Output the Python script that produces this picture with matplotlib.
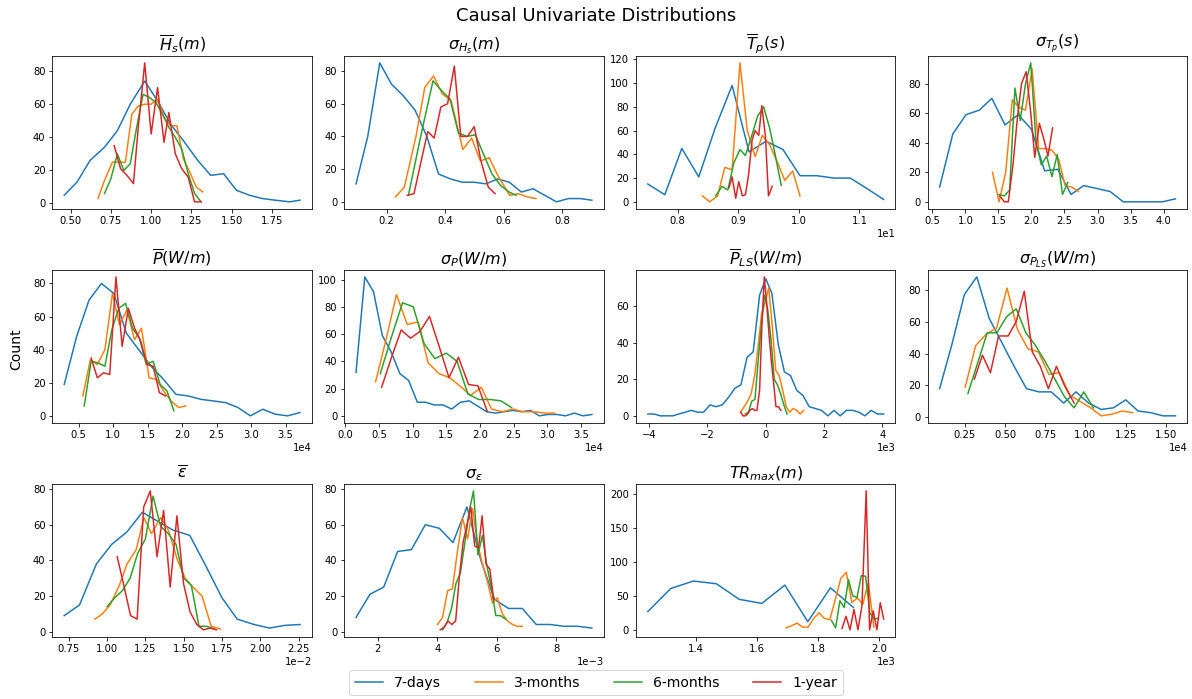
import numpy as np
import matplotlib
matplotlib.use("Agg")
import matplotlib.pyplot as plt

# windows compared in every panel
windows = ['7-days', '3-months', '6-months', '1-year']

# --- mean significant wave height (m)
hs_mean_x = [
    [0.46, 0.54, 0.62, 0.71, 0.79, 0.87, 0.96, 1.04, 1.12, 1.20, 1.29, 1.37, 1.45, 1.53, 1.61, 1.69, 1.77, 1.86, 1.925],
    [0.67, 0.71, 0.76, 0.80, 0.84, 0.88, 0.92, 0.96, 1.00, 1.04, 1.08, 1.12, 1.16, 1.20, 1.24, 1.28, 1.32],
    [0.71, 0.75, 0.79, 0.83, 0.87, 0.91, 0.95, 0.99, 1.03, 1.07, 1.11, 1.15, 1.19, 1.23, 1.27, 1.31],
    [0.77, 0.81, 0.85, 0.89, 0.92, 0.96, 1.00, 1.04, 1.08, 1.11, 1.15, 1.19, 1.23, 1.27, 1.31],
]
hs_mean_y = [
    [5, 13, 26, 34, 44, 60, 74, 62, 48, 38, 26, 17, 18, 8, 5, 3, 2, 1, 2],
    [3, 14, 25, 25, 25, 54, 59, 60, 60, 63, 52, 47, 47, 27, 19, 10, 7],
    [6, 15, 30, 20, 24, 46, 66, 64, 61, 54, 46, 40, 33, 18, 6, 1],
    [35, 21, 17, 12, 46, 85, 42, 70, 37, 55, 30, 21, 16, 1, 1],
]

# --- std of significant wave height (m)
hs_std_x = [
    [0.095, 0.135, 0.176, 0.216, 0.256, 0.297, 0.337, 0.377, 0.418, 0.458, 0.498, 0.539, 0.579, 0.619, 0.660, 0.700, 0.740, 0.780, 0.821, 0.861, 0.901],
    [0.23, 0.26, 0.30, 0.33, 0.36, 0.39, 0.42, 0.46, 0.49, 0.52, 0.55, 0.58, 0.62, 0.65, 0.68, 0.71],
    [0.274, 0.316, 0.358, 0.387, 0.416, 0.445, 0.474, 0.503, 0.531, 0.560, 0.589, 0.618, 0.642],
    [0.270, 0.293, 0.340, 0.362, 0.385, 0.408, 0.431, 0.453, 0.476, 0.499, 0.522, 0.547, 0.570],
]
hs_std_y = [
    [11, 40, 85, 72, 65, 56, 40, 17, 14, 12, 12, 11, 14, 12, 6, 8, 4, 0, 2, 2, 1],
    [3, 9, 40, 70, 77, 66, 62, 32, 39, 25, 27, 16, 4, 5, 3, 2],
    [4, 40, 74, 68, 63, 42, 40, 41, 29, 17, 10, 6, 4],
    [4, 5, 43, 39, 58, 60, 83, 40, 40, 46, 25, 9, 5],
]

# --- mean peak period (s)
tp_mean_x = [
    [7.51, 7.79, 8.07, 8.35, 8.62, 8.90, 9.18, 9.46, 9.74, 10.02, 10.30, 10.58, 10.85, 11.13, 11.40],
    [8.41, 8.53, 8.66, 8.78, 8.90, 9.03, 9.15, 9.28, 9.40, 9.52, 9.65, 9.77, 9.90, 10.02],
    [8.63, 8.73, 8.83, 8.93, 9.03, 9.12, 9.22, 9.32, 9.42, 9.52, 9.61, 9.71],
    [8.85, 8.90, 8.96, 9.01, 9.07, 9.12, 9.17, 9.23, 9.28, 9.34, 9.39, 9.45, 9.50, 9.56],
]
tp_mean_y = [
    [15, 6, 45, 21, 62, 98, 42, 51, 44, 22, 22, 20, 20, 11, 2],
    [5, 0, 5, 29, 27, 117, 60, 38, 56, 48, 33, 18, 26, 5],
    [5, 13, 10, 33, 44, 39, 55, 72, 80, 62, 40, 14],
    [12, 21, 3, 17, 5, 6, 22, 52, 60, 56, 81, 55, 5, 13],
]

# --- std of peak period (s)
tp_std_x = [
    [0.61, 0.81, 1.01, 1.21, 1.40, 1.60, 1.80, 2.00, 2.20, 2.40, 2.60, 2.79, 2.99, 3.19, 3.39, 3.59, 3.79, 3.98, 4.18],
    [1.41, 1.51, 1.61, 1.71, 1.81, 1.91, 2.01, 2.11, 2.21, 2.31, 2.41, 2.51, 2.61, 2.71],
    [1.51, 1.59, 1.67, 1.75, 1.83, 1.91, 1.99, 2.07, 2.15, 2.23, 2.31, 2.39, 2.47, 2.55],
    [1.52, 1.59, 1.65, 1.72, 1.79, 1.85, 1.92, 1.99, 2.05, 2.12, 2.19, 2.25, 2.32],
]
tp_std_y = [
    [10, 46, 59, 62, 70, 52, 59, 49, 21, 22, 5, 11, 9, 7, 0, 0, 0, 0, 2],
    [20, 0, 20, 69, 64, 62, 90, 36, 36, 35, 29, 11, 10, 7],
    [5, 4, 8, 77, 55, 80, 94, 40, 25, 31, 17, 32, 5, 13],
    [4, 0, 0, 25, 58, 80, 88, 60, 30, 53, 42, 31, 50],
]

# --- mean wave power (1e4 W/m)
p_mean_x = [
    [0.29, 0.47, 0.65, 0.83, 1.01, 1.19, 1.37, 1.55, 1.73, 1.91, 2.09, 2.27, 2.45, 2.63, 2.81, 2.99, 3.17, 3.35, 3.53, 3.71],
    [0.56, 0.67, 0.77, 0.88, 0.99, 1.09, 1.20, 1.31, 1.41, 1.52, 1.63, 1.73, 1.84, 1.95, 2.05],
    [0.58, 0.68, 0.78, 0.88, 0.98, 1.08, 1.18, 1.28, 1.38, 1.48, 1.58, 1.68, 1.78, 1.88],
    [0.68, 0.77, 0.86, 0.95, 1.04, 1.13, 1.22, 1.31, 1.40, 1.49, 1.58, 1.67, 1.76],
]
p_mean_y = [
    [19, 48, 70, 80, 74, 50, 40, 30, 22, 13, 12, 10, 9, 8, 5, 0, 4, 1, 0, 2],
    [12, 34, 31, 40, 74, 55, 64, 46, 53, 23, 22, 15, 9, 5, 6],
    [6, 33, 32, 30, 52, 65, 68, 53, 47, 31, 33, 19, 15, 3],
    [35, 23, 26, 25, 84, 42, 65, 53, 45, 31, 30, 14, 12],
]

# --- std of wave power (1e4 W/m)
p_std_x = [
    [0.16, 0.29, 0.42, 0.55, 0.68, 0.81, 0.94, 1.07, 1.19, 1.32, 1.45, 1.58, 1.71, 1.84, 1.97, 2.10, 2.23, 2.36, 2.49, 2.62, 2.75, 2.88, 3.01, 3.14, 3.27, 3.40, 3.53, 3.66],
    [0.45, 0.61, 0.76, 0.92, 1.08, 1.23, 1.39, 1.55, 1.70, 1.86, 2.02, 2.17, 2.33, 2.49, 2.64, 2.80, 2.96, 3.11],
    [0.52, 0.68, 0.85, 1.01, 1.17, 1.33, 1.50, 1.66, 1.82, 1.98, 2.15, 2.31, 2.47],
    [0.54, 0.68, 0.83, 0.97, 1.11, 1.25, 1.40, 1.54, 1.68, 1.83, 1.97, 2.11],
]
p_std_y = [
    [32, 102, 91, 59, 47, 31, 26, 10, 10, 8, 8, 5, 10, 11, 7, 3, 2, 3, 4, 3, 4, 0, 1, 1, 0, 2, 0, 1],
    [25, 57, 89, 67, 69, 39, 31, 28, 22, 15, 21, 5, 3, 5, 3, 3, 2, 2],
    [31, 57, 83, 80, 53, 42, 46, 40, 16, 12, 12, 11, 6],
    [21, 42, 63, 57, 62, 73, 50, 28, 43, 23, 22, 3],
]

# --- mean longshore power (1e3 W/m)
pls_mean_x = [
    [-4.04, -3.83, -3.61, -3.40, -3.19, -2.98, -2.76, -2.55, -2.34, -2.13, -1.91, -1.70, -1.49, -1.28, -1.06, -0.85, -0.64, -0.43, -0.21, 0.00,
     0.21, 0.43, 0.64, 0.85, 1.06, 1.28, 1.49, 1.70, 1.91, 2.13, 2.34, 2.55, 2.76, 2.98, 3.19, 3.40, 3.61, 3.83, 4.04],
    [-0.86, -0.74, -0.62, -0.50, -0.38, -0.26, -0.14, -0.02, 0.10, 0.22, 0.34, 0.46, 0.58, 0.70, 0.82, 0.94, 1.06, 1.18, 1.30],
    [-0.70, -0.59, -0.48, -0.37, -0.26, -0.15, -0.04, 0.07, 0.18, 0.29, 0.40, 0.51, 0.62, 0.73],
    [-0.86, -0.78, -0.70, -0.62, -0.54, -0.46, -0.38, -0.30, -0.21, -0.13, -0.05, 0.03, 0.11, 0.19, 0.27, 0.35, 0.43, 0.52],
]
pls_mean_y = [
    [1, 1, 0, 0, 0, 1, 2, 3, 2, 2, 6, 5, 6, 10, 15, 17, 32, 35, 66, 75,
     67, 39, 24, 22, 14, 11, 5, 4, 3, 0, 3, 0, 3, 3, 2, 0, 3, 1, 1],
    [2, 5, 8, 12, 22, 38, 56, 62, 70, 50, 25, 22, 14, 5, 2, 4, 3, 1, 3],
    [1, 2, 8, 9, 30, 50, 66, 58, 42, 20, 17, 12, 6, 1],
    [2, 0, 0, 1, 3, 4, 3, 3, 14, 50, 76, 62, 45, 30, 18, 5, 5, 3],
]

# --- std of longshore power (1e4 W/m)
pls_std_x = [
    [0.094, 0.171, 0.248, 0.325, 0.402, 0.480, 0.557, 0.634, 0.711, 0.788, 0.865, 0.942, 1.020, 1.097, 1.174, 1.251, 1.328, 1.405, 1.482, 1.560],
    [0.253, 0.318, 0.383, 0.448, 0.513, 0.578, 0.643, 0.708, 0.773, 0.838, 0.903, 0.968, 1.033, 1.098, 1.163, 1.228, 1.293],
    [0.27, 0.33, 0.39, 0.45, 0.51, 0.57, 0.63, 0.69, 0.75, 0.81, 0.87, 0.93, 0.99, 1.05],
    [0.31, 0.36, 0.41, 0.46, 0.52, 0.57, 0.62, 0.67, 0.72, 0.77, 0.82, 0.87, 0.93],
]
pls_std_y = [
    [18, 46, 77, 88, 62, 47, 32, 18, 16, 16, 9, 16, 9, 5, 6, 11, 4, 3, 1, 1],
    [19, 45, 52, 56, 81, 55, 43, 41, 27, 28, 14, 10, 6, 1, 2, 4, 3],
    [15, 34, 53, 53, 63, 68, 53, 45, 35, 24, 13, 6, 16, 6],
    [24, 39, 28, 51, 51, 60, 79, 41, 32, 18, 32, 20, 9],
]

# --- mean steepness (1e-2)
eps_mean_x = [
    [0.72, 0.82, 0.93, 1.03, 1.13, 1.23, 1.33, 1.43, 1.54, 1.65, 1.75, 1.85, 1.96, 2.06, 2.16, 2.26],
    [0.92, 0.97, 1.02, 1.08, 1.13, 1.19, 1.24, 1.29, 1.35, 1.40, 1.46, 1.51, 1.56, 1.62, 1.68, 1.74],
    [1.00, 1.05, 1.10, 1.15, 1.20, 1.25, 1.30, 1.35, 1.40, 1.45, 1.50, 1.55, 1.60, 1.65, 1.70],
    [1.066, 1.109, 1.153, 1.196, 1.239, 1.282, 1.326, 1.369, 1.412, 1.456, 1.499, 1.542, 1.586, 1.629, 1.672, 1.715],
]
eps_mean_y = [
    [9, 15, 38, 49, 56, 67, 62, 57, 54, 36, 19, 7, 4, 2, 3.5, 4],
    [7, 10, 15, 26, 38, 46, 64, 55, 64, 57, 40, 30, 25, 20, 3, 1.5],
    [14, 19, 23, 30, 44, 52, 76, 59, 55, 49, 30, 26, 3, 3, 1.5],
    [42, 26, 9, 7, 70, 79, 42, 68, 25, 65, 27, 11, 4, 1, 2, 1],
]

# --- std of steepness (1e-3)
eps_std_x = [
    [1.27, 1.74, 2.20, 2.67, 3.13, 3.60, 4.07, 4.53, 5.00, 5.47, 5.93, 6.40, 6.86, 7.33, 7.80, 8.26, 8.73, 9.20],
    [4.01, 4.18, 4.35, 4.51, 4.68, 4.85, 5.02, 5.19, 5.35, 5.52, 5.69, 5.86, 6.02, 6.19, 6.36, 6.53, 6.69, 6.86],
    [4.18, 4.33, 4.48, 4.63, 4.78, 4.93, 5.08, 5.22, 5.37, 5.52, 5.67, 5.82, 5.97, 6.12, 6.30],
    [4.10, 4.23, 4.36, 4.49, 4.62, 4.74, 4.87, 5.00, 5.13, 5.26, 5.39, 5.51, 5.64, 5.77, 5.90],
]
eps_std_y = [
    [8, 21, 25, 45, 46, 60, 58, 50, 70, 40, 18, 13, 13, 4, 4, 3, 3, 2],
    [4, 8, 23, 24, 45, 64, 52, 69, 50, 38, 28, 16, 19, 10, 6, 4, 3, 3],
    [1, 5, 13, 27, 33, 50, 68, 79, 43, 54, 37, 25, 9, 9, 7],
    [1, 2.5, 6, 4, 6, 30, 50, 60, 70, 48, 47, 65, 38, 35, 18],
]

# --- maximum shoreline retreat (1e3 m)
tr_max_x = [
    [1.243, 1.318, 1.392, 1.467, 1.542, 1.616, 1.691, 1.766, 1.840, 1.915],
    [1.695, 1.713, 1.731, 1.749, 1.767, 1.785, 1.803, 1.820, 1.838, 1.856, 1.874, 1.892, 1.910, 1.928, 1.946, 1.964, 1.982],
    [1.843, 1.857, 1.871, 1.885, 1.899, 1.913, 1.927, 1.941, 1.955, 1.969, 1.983, 1.997],
    [1.878, 1.891, 1.904, 1.917, 1.930, 1.943, 1.957, 1.968, 1.980, 1.992, 2.003, 2.014],
]
tr_max_y = [
    [27, 61, 72, 68, 45, 39, 66, 12, 62, 33],
    [3, 6, 10, 4, 4, 17, 25, 17, 15, 45, 76, 85, 40, 47, 38, 70, 4],
    [14, 3, 43, 33, 74, 50, 48, 80, 79, 25, 16, 17],
    [2, 20, 0, 30, 0, 35, 205, 0, 28, 0, 40, 16],
]

titles = [
    r'$\overline{H}_s(m)$', r'$\sigma_{H_s}(m)$', r'$\overline{T}_p(s)$', r'$\sigma_{T_p}(s)$',
    r'$\overline{P}(W/m)$', r'$\sigma_P(W/m)$', r'$\overline{P}_{LS}(W/m)$', r'$\sigma_{P_{LS}}(W/m)$',
    r'$\overline{\epsilon}$', r'$\sigma_\epsilon$', r'$TR_{max}(m)$',
]
# (x values, counts, unit scale of x values)
panels = [
    (hs_mean_x, hs_mean_y, 1),
    (hs_std_x, hs_std_y, 1),
    (tp_mean_x, tp_mean_y, 1),
    (tp_std_x, tp_std_y, 1),
    (p_mean_x, p_mean_y, 1e4),
    (p_std_x, p_std_y, 1e4),
    (pls_mean_x, pls_mean_y, 1e3),
    (pls_std_x, pls_std_y, 1e4),
    (eps_mean_x, eps_mean_y, 1e-2),
    (eps_std_x, eps_std_y, 1e-3),
    (tr_max_x, tr_max_y, 1e3),
]

DPI = 72
fig, axes = plt.subplots(3, 4, figsize=(1192 / DPI, 699 / DPI), dpi=DPI)
fig.subplots_adjust(left=0.044, right=0.996, top=0.92, bottom=0.089, wspace=0.125, hspace=0.40)

for ax, title, (xs, ys, scale) in zip(axes.flat, titles, panels):
    for name, x, y in zip(windows, xs, ys):
        ax.plot(np.array(x) * scale, y, label=name)
    ax.set_title(title, fontsize=16)
    ax.ticklabel_format(axis='x', style='sci', scilimits=(-2, 1))

axes.flat[-1].remove()

fig.suptitle('Causal Univariate Distributions', fontsize=18, y=0.99)
fig.text(0.014, 0.5, 'Count', rotation=90, va='center', ha='center', fontsize=14)

handles, labels = axes.flat[0].get_legend_handles_labels()
fig.legend(handles, labels, loc='lower center', ncol=4, fontsize=14,
           bbox_to_anchor=(0.5, -0.005), columnspacing=2.4)

fig.savefig('out.png', dpi=DPI)
